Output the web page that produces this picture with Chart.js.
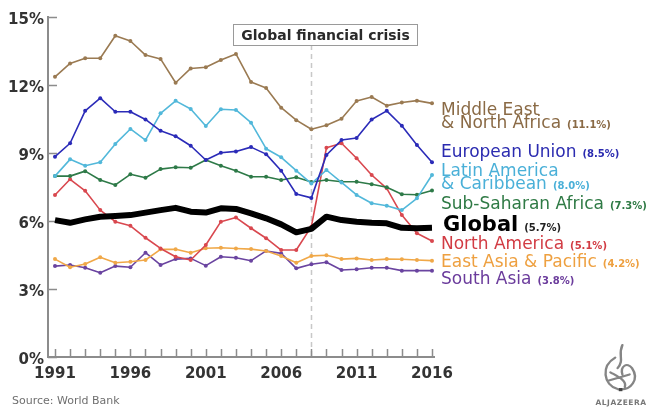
<!DOCTYPE html>
<html>
<head>
<meta charset="utf-8">
<script src="https://cdn.jsdelivr.net/npm/chart.js@4.4.0/dist/chart.umd.min.js"></script>
<style>
  html, body { margin: 0; padding: 0; background: #fff; }
  #wrap { position: relative; width: 648px; height: 408px; }
</style>
</head>
<body>
<div id="wrap"><canvas id="chart" width="648" height="408"></canvas></div>
<script>
// --- data (unemployment rate, %) ---
const years = [1991, 1992, 1993, 1994, 1995, 1996, 1997, 1998, 1999, 2000, 2001, 2002, 2003,
               2004, 2005, 2006, 2007, 2008, 2009, 2010, 2011, 2012, 2013, 2014, 2015, 2016];
const mena    = [12.36, 12.95, 13.18, 13.18, 14.17, 13.94, 13.32, 13.15, 12.10, 12.73, 12.78, 13.10, 13.37,
                 12.13, 11.87, 11.00, 10.45, 10.05, 10.22, 10.51, 11.29, 11.47, 11.09, 11.23, 11.31, 11.19];
const eu      = [8.84, 9.43, 10.86, 11.42, 10.82, 10.82, 10.48, 9.98, 9.74, 9.32, 8.69, 9.01, 9.07,
                 9.26, 8.95, 8.22, 7.19, 7.02, 8.91, 9.57, 9.66, 10.48, 10.86, 10.20, 9.35, 8.59];
const latam   = [7.98, 8.72, 8.44, 8.59, 9.40, 10.06, 9.57, 10.75, 11.30, 10.94, 10.19, 10.93, 10.90,
                 10.34, 9.19, 8.81, 8.22, 7.65, 8.25, 7.70, 7.15, 6.78, 6.67, 6.48, 7.00, 8.03];
const ssa     = [7.98, 7.98, 8.20, 7.81, 7.59, 8.06, 7.91, 8.29, 8.37, 8.35, 8.69, 8.44, 8.22,
                 7.95, 7.95, 7.81, 7.93, 7.72, 7.81, 7.73, 7.73, 7.62, 7.49, 7.18, 7.16, 7.35];
const global  = [6.04, 5.92, 6.07, 6.19, 6.22, 6.26, 6.37, 6.48, 6.58, 6.41, 6.37, 6.56, 6.53,
                 6.34, 6.12, 5.85, 5.50, 5.65, 6.19, 6.04, 5.97, 5.92, 5.90, 5.70, 5.68, 5.70];
const northAm = [7.15, 7.84, 7.33, 6.48, 5.97, 5.79, 5.26, 4.79, 4.42, 4.28, 4.94, 5.97, 6.15,
                 5.68, 5.24, 4.72, 4.72, 5.75, 9.23, 9.43, 8.77, 8.03, 7.44, 6.26, 5.46, 5.12];
const eap     = [4.32, 3.96, 4.10, 4.40, 4.16, 4.20, 4.28, 4.75, 4.75, 4.60, 4.80, 4.82, 4.79,
                 4.76, 4.68, 4.46, 4.16, 4.46, 4.49, 4.32, 4.35, 4.28, 4.32, 4.31, 4.28, 4.25];
const sAsia   = [4.01, 4.06, 3.94, 3.72, 4.01, 3.96, 4.60, 4.06, 4.32, 4.35, 4.03, 4.42, 4.38,
                 4.25, 4.68, 4.57, 3.91, 4.09, 4.18, 3.84, 3.87, 3.94, 3.94, 3.81, 3.81, 3.81];

const yTicks = [0, 3, 6, 9, 12, 15];
const xLabelYears = [1991, 1996, 2001, 2006, 2011, 2016];
const crisisYear = 2008;
const crisisText = 'Global financial crisis';
const endValues = ['11.1', '8.5', '8.0', '7.3', '5.7', '5.1', '4.2', '3.8'];

// --- styling ---
const FONT = 'DejaVu Sans';
const AXIS = '#8c8c8c';

const series = [
  { label: 'Global', data: global, color: '#000000', width: 6, radius: 0, order: 0 },
  { label: 'Middle East & North Africa', data: mena, color: '#9a7a52' },
  { label: 'European Union', data: eu, color: '#2b2bb8' },
  { label: 'Latin America & Caribbean', data: latam, color: '#52b8da' },
  { label: 'Sub-Saharan Africa', data: ssa, color: '#2e7a48' },
  { label: 'North America', data: northAm, color: '#d9484f' },
  { label: 'East Asia & Pacific', data: eap, color: '#f0a848' },
  { label: 'South Asia', data: sAsia, color: '#6a44a0' }
];

// right-hand labels: text lines, colour, baselines (px)
const endLabels = [
  { lines: ['Middle East', '& North Africa'], color: '#8a6a45', base: [115, 128], value: endValues[0] },
  { lines: ['European Union'], color: '#2b2bb0', base: [157], value: endValues[1] },
  { lines: ['Latin America', '& Caribbean'], color: '#4ab0d8', base: [176, 189], value: endValues[2] },
  { lines: ['Sub-Saharan Africa'], color: '#2f7a45', base: [209], value: endValues[3] },
  { lines: ['Global'], color: '#000000', base: [231], value: endValues[4], big: true },
  { lines: ['North America'], color: '#d23c44', base: [249], value: endValues[5] },
  { lines: ['East Asia & Pacific'], color: '#eea040', base: [267], value: endValues[6] },
  { lines: ['South Asia'], color: '#6b3c9c', base: [284], value: endValues[7] }
];

// rough sketch of the broadcaster's calligraphic mark
function drawLogo(ctx, cx, top) {
  ctx.save();
  ctx.translate(cx, top);
  ctx.scale(1.2, 1.05);
  ctx.strokeStyle = '#858585';
  ctx.lineCap = 'round';
  ctx.lineWidth = 2;
  ctx.beginPath();
  ctx.moveTo(2, 0);
  ctx.bezierCurveTo(-2, 10, 4, 14, -2, 22);
  ctx.moveTo(-4, 12);
  ctx.bezierCurveTo(-16, 20, -14, 38, -2, 42);
  ctx.bezierCurveTo(10, 44, 16, 32, 10, 22);
  ctx.bezierCurveTo(6, 16, 0, 20, 2, 28);
  ctx.moveTo(-8, 26);
  ctx.bezierCurveTo(-2, 30, 6, 34, 4, 40);
  ctx.moveTo(-10, 34);
  ctx.lineTo(8, 28);
  ctx.stroke();
  ctx.fillStyle = '#444';
  ctx.fillRect(-1, 41, 3, 3);
  ctx.restore();
}

const decor = {
  id: 'decor',
  beforeDatasetsDraw(chart) {
    const { ctx, chartArea, scales: { x, y } } = chart;
    ctx.save();
    // dashed crisis line
    const cx = Math.round(x.getPixelForValue(crisisYear)) + 0.5;
    ctx.strokeStyle = '#c8c8c8';
    ctx.lineWidth = 1.5;
    ctx.setLineDash([5, 4]);
    ctx.beginPath();
    ctx.moveTo(cx, 45);
    ctx.lineTo(cx, chartArea.bottom);
    ctx.stroke();
    ctx.setLineDash([]);
    // inner tick marks
    ctx.strokeStyle = AXIS;
    ctx.lineWidth = 1.5;
    ctx.beginPath();
    yTicks.forEach(v => {
      const py = Math.round(y.getPixelForValue(v)) + 0.5;
      ctx.moveTo(chartArea.left, py);
      ctx.lineTo(chartArea.left + 9, py);
    });
    years.forEach(v => {
      const px = Math.round(x.getPixelForValue(v)) + 0.5;
      ctx.moveTo(px, chartArea.bottom);
      ctx.lineTo(px, chartArea.bottom - 8);
    });
    ctx.stroke();
    ctx.restore();
  },
  afterDraw(chart) {
    const { ctx, scales: { x } } = chart;
    ctx.save();
    // crisis box
    const cx = x.getPixelForValue(crisisYear);
    const bx = Math.round(cx - 78) + 0.5, by = 24.5, bw = 184, bh = 21;
    ctx.fillStyle = '#fff';
    ctx.fillRect(bx, by, bw, bh);
    ctx.strokeStyle = '#9a9a9a';
    ctx.lineWidth = 1;
    ctx.strokeRect(bx, by, bw, bh);
    ctx.fillStyle = '#2a2a2a';
    ctx.font = `bold 14px "${FONT}"`;
    ctx.textAlign = 'center';
    ctx.textBaseline = 'middle';
    ctx.fillText(crisisText, bx + bw / 2, by + bh / 2 + 1);

    // end labels
    ctx.textAlign = 'left';
    ctx.textBaseline = 'alphabetic';
    endLabels.forEach(l => {
      const lx = l.big ? 443 : 441;
      ctx.fillStyle = l.color;
      ctx.font = l.big ? `bold 21px "${FONT}"` : `17px "${FONT}"`;
      l.lines.forEach((t, i) => ctx.fillText(t, lx, l.base[i]));
      const last = l.lines[l.lines.length - 1];
      const w = ctx.measureText(last).width;
      ctx.font = `bold 10px "${FONT}"`;
      ctx.fillStyle = l.big ? '#222' : l.color;
      ctx.fillText('(' + l.value + '%)', lx + w + 6, l.base[l.base.length - 1]);
    });

    // source + logo
    ctx.fillStyle = '#6f6f6f';
    ctx.font = `11px "${FONT}"`;
    ctx.fillText('Source: World Bank', 12, 404);
    drawLogo(ctx, 620, 345);
    ctx.font = `bold 7.5px "${FONT}"`;
    ctx.textAlign = 'center';
    ctx.letterSpacing = '0.5px';
    ctx.fillStyle = '#777';
    ctx.fillText('ALJAZEERA', 621, 405);
    ctx.restore();
  }
};

const ctx = document.getElementById('chart').getContext('2d');
new Chart(ctx, {
  type: 'line',
  data: {
    datasets: series.map(s => ({
      label: s.label,
      data: s.data.map((v, i) => ({ x: years[i], y: v })),
      borderColor: s.color,
      backgroundColor: s.color,
      borderWidth: s.width || 1.6,
      pointRadius: s.radius === undefined ? 2 : s.radius,
      pointBorderWidth: 0,
      borderJoinStyle: 'round',
      tension: 0,
      order: s.order === undefined ? 1 : s.order
    }))
  },
  options: {
    responsive: false,
    animation: false,
    layout: { padding: { left: 0, right: 214, top: 17, bottom: 0 } },
    plugins: { legend: { display: false }, tooltip: { enabled: false } },
    scales: {
      x: {
        type: 'linear',
        min: 1990.536,
        max: 2016.133,
        afterBuildTicks: s => { s.ticks = years.map(v => ({ value: v })); },
        afterFit: s => { s.height = 51; },
        grid: { display: false, drawTicks: false },
        border: { color: AXIS, width: 2 },
        ticks: {
          autoSkip: false, maxRotation: 0, padding: 8, color: '#333',
          font: { family: FONT, weight: 'bold', size: 15 },
          callback: v => xLabelYears.includes(v) ? String(v) : ''
        }
      },
      y: {
        min: 0,
        max: 15,
        afterBuildTicks: s => { s.ticks = yTicks.map(v => ({ value: v })); },
        afterFit: s => { s.width = 48; },
        grid: { display: false, drawTicks: false },
        border: { color: AXIS, width: 2 },
        ticks: {
          padding: 4, labelOffset: 3, color: '#333',
          font: { family: FONT, weight: 'bold', size: 15 },
          callback: v => v + '%'
        }
      }
    }
  },
  plugins: [decor]
});
</script>
</body>
</html>
